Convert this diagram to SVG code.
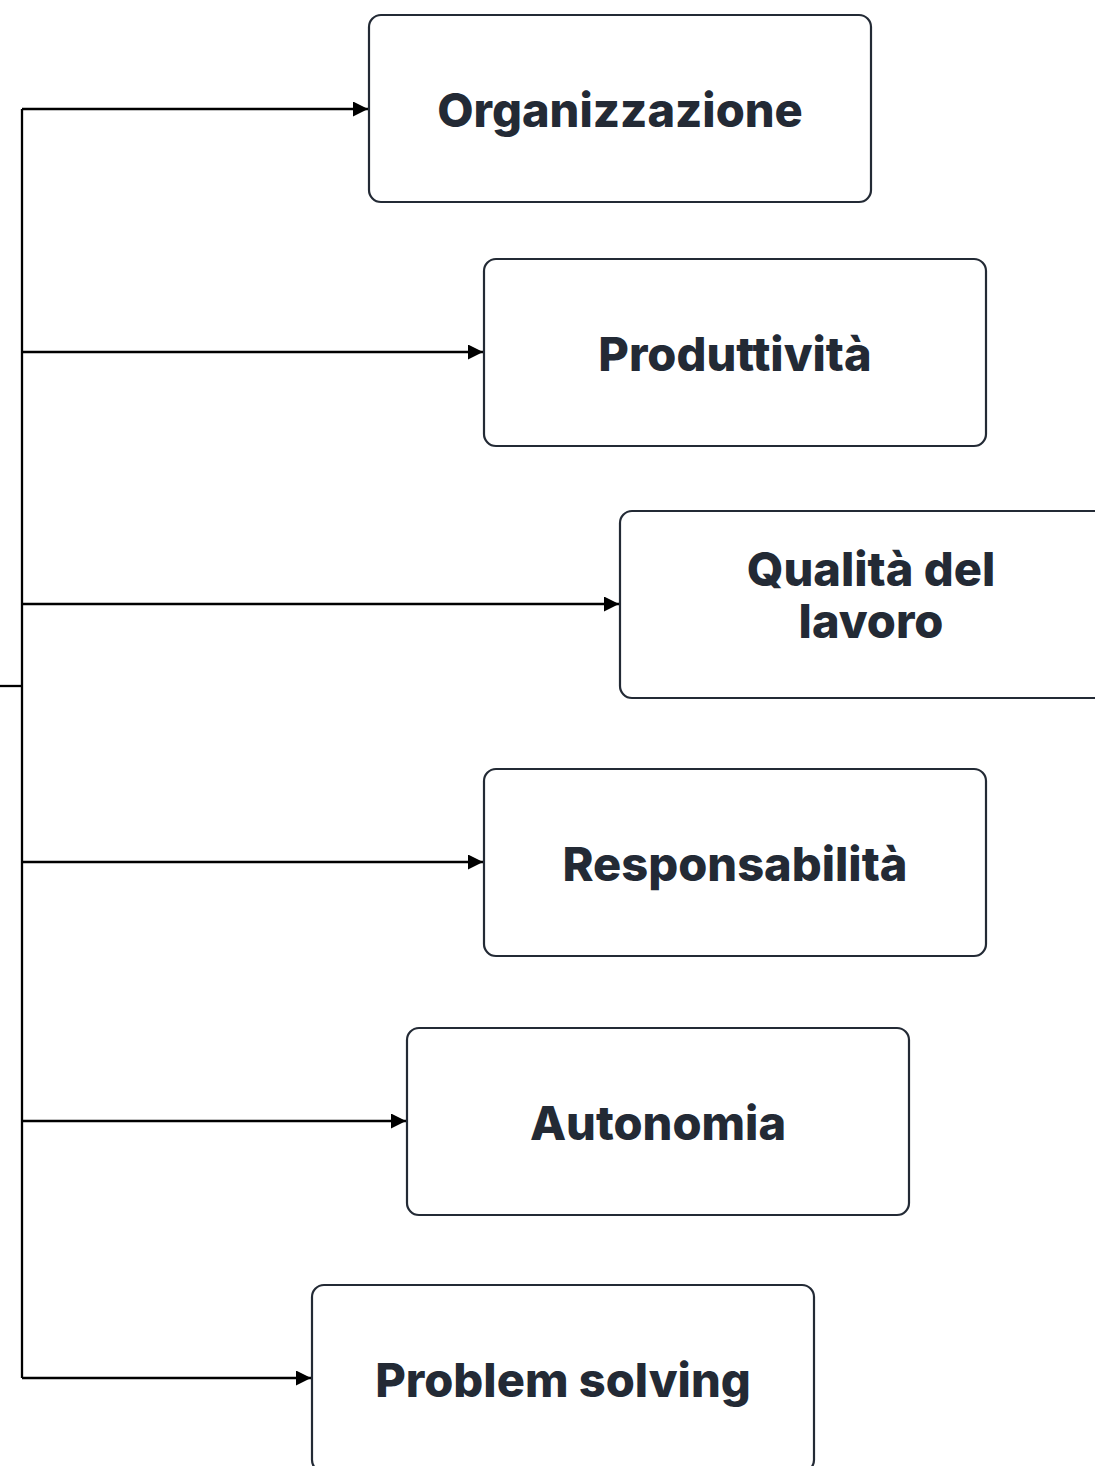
<svg xmlns="http://www.w3.org/2000/svg" width="1095" height="1466" viewBox="0 0 1095 1466">
<defs>
<marker id="arr" markerWidth="16" markerHeight="16" refX="15" refY="7.5" orient="auto" markerUnits="userSpaceOnUse">
<path d="M0,0 L15,7.5 L0,15 Z" fill="#000"/>
</marker>
<style>
.box{fill:#fff;stroke:#232a35;stroke-width:2.2}
.lbl{font-family:Inter,"Noto Sans",sans-serif;font-weight:800;font-size:47px;fill:#232a35;text-anchor:middle}
.c{fill:none;stroke:#000;stroke-width:2.3}
</style>
</defs>
<rect width="1095" height="1466" fill="#fff"/>
<g id="connectors">
<path class="c" d="M0,686 H22"/>
<path class="c" d="M22,109 V1378"/>
<path class="c" d="M22,109 H368" marker-end="url(#arr)"/>
<path class="c" d="M22,352 H483" marker-end="url(#arr)"/>
<path class="c" d="M22,604 H619" marker-end="url(#arr)"/>
<path class="c" d="M22,862 H483" marker-end="url(#arr)"/>
<path class="c" d="M22,1121 H406" marker-end="url(#arr)"/>
<path class="c" d="M22,1378 H311" marker-end="url(#arr)"/>
</g>
<g id="n1"><rect class="box" x="369" y="15" width="502" height="187" rx="12"/><text class="lbl" x="620" y="127">Organizzazione</text></g>
<g id="n2"><rect class="box" x="484" y="259" width="502" height="187" rx="12"/><text class="lbl" x="735" y="371">Produttività</text></g>
<g id="n3"><rect class="box" x="620" y="511" width="502" height="187" rx="12"/><text class="lbl" x="871" y="586">Qualità del</text><text class="lbl" x="871" y="638">lavoro</text></g>
<g id="n4"><rect class="box" x="484" y="769" width="502" height="187" rx="12"/><text class="lbl" x="735" y="881">Responsabilità</text></g>
<g id="n5"><rect class="box" x="407" y="1028" width="502" height="187" rx="12"/><text class="lbl" x="658" y="1140">Autonomia</text></g>
<g id="n6"><rect class="box" x="312" y="1285" width="502" height="187" rx="12"/><text class="lbl" x="563" y="1397">Problem solving</text></g>
</svg>
